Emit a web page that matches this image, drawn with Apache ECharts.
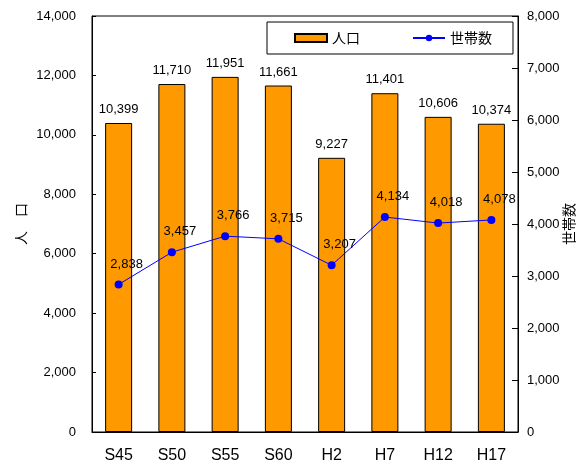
<!DOCTYPE html>
<html><head><meta charset="utf-8">
<script src="https://cdn.jsdelivr.net/npm/echarts@6/dist/echarts.min.js"></script>
<style>html,body{margin:0;padding:0;background:#fff}#c{width:579px;height:463px}</style>
</head><body><div id="c"></div>
<script>
var categories = ['S45','S50','S55','S60','H2','H7','H12','H17'];
var population = [10399, 11710, 11951, 11661, 9227, 11401, 10606, 10374];
var households = [2838, 3457, 3766, 3715, 3207, 4134, 4018, 4078];
var leftTicks = {min: 0, max: 14000, interval: 2000};
var rightTicks = {min: 0, max: 8000, interval: 1000};

var FONT = "'Liberation Sans','Noto Sans CJK JP',sans-serif";
function fmt(v){ return String(v).replace(/\B(?=(\d{3})+(?!\d))/g, ','); }
var chart = echarts.init(document.getElementById('c'));
chart.setOption({
  animation: false,
  textStyle: {fontFamily: FONT, color: '#000'},
  grid: {left: 92, right: 61, top: 16, bottom: 31, show: true, borderColor: '#000', borderWidth: 1,
         containLabel: false, outerBoundsMode: 'none'},
  legend: {
    left: 267, top: 22,
    padding: [9, 21, 9, 27],
    itemGap: 52, itemWidth: 32, itemHeight: 8,
    borderColor: '#000', borderWidth: 1,
    textStyle: {fontSize: 14, fontFamily: "'Noto Sans CJK JP',sans-serif", color: '#000'},
    data: [{name: '人口', icon: 'rect'}, {name: '世帯数'}]
  },
  xAxis: {
    type: 'category', data: categories, boundaryGap: true,
    axisLine: {lineStyle: {color: '#000', width: 1}},
    axisTick: {inside: true, length: 6, lineStyle: {color: '#666'}},
    axisLabel: {fontSize: 16, color: '#000', margin: 16, fontFamily: FONT}
  },
  yAxis: [{
    type: 'value', min: leftTicks.min, max: leftTicks.max, interval: leftTicks.interval,
    name: '人　口', nameLocation: 'middle', nameGap: 64, nameMoveOverlap: false,
    nameTextStyle: {fontSize: 14, color: '#000', fontFamily: "'Noto Sans CJK JP',sans-serif"},
    axisLine: {show: true, lineStyle: {color: '#000'}},
    axisTick: {show: true, inside: true, length: 4, lineStyle: {color: '#000'}},
    splitLine: {show: false},
    axisLabel: {fontSize: 13, color: '#000', margin: 16, formatter: fmt}
  }, {
    type: 'value', min: rightTicks.min, max: rightTicks.max, interval: rightTicks.interval,
    name: '世帯数', nameLocation: 'middle', nameGap: 44, nameMoveOverlap: false,
    nameTextStyle: {fontSize: 14, color: '#000', fontFamily: "'Noto Sans CJK JP',sans-serif"},
    axisLine: {show: true, lineStyle: {color: '#000'}},
    axisTick: {show: true, inside: true, length: 6, lineStyle: {color: '#000'}},
    splitLine: {show: false},
    axisLabel: {fontSize: 13, color: '#000', margin: 9, formatter: fmt}
  }],
  series: [{
    name: '人口', type: 'bar', data: population, barWidth: 27,
    itemStyle: {color: '#FF9900', borderColor: '#000', borderWidth: 1},
    label: {show: true, position: 'top', distance: 7, fontSize: 13, color: '#000', formatter: function(p){return fmt(p.value);}}
  }, {
    name: '世帯数', type: 'line', yAxisIndex: 1, data: households,
    symbol: 'circle', symbolSize: 8,
    lineStyle: {color: '#0000FF', width: 1},
    itemStyle: {color: '#0000FF'},
    label: {show: true, position: 'top', distance: 10, offset: [8, 0], fontSize: 13, color: '#000', formatter: function(p){return fmt(p.value);}}
  }]
});
</script></body></html>
